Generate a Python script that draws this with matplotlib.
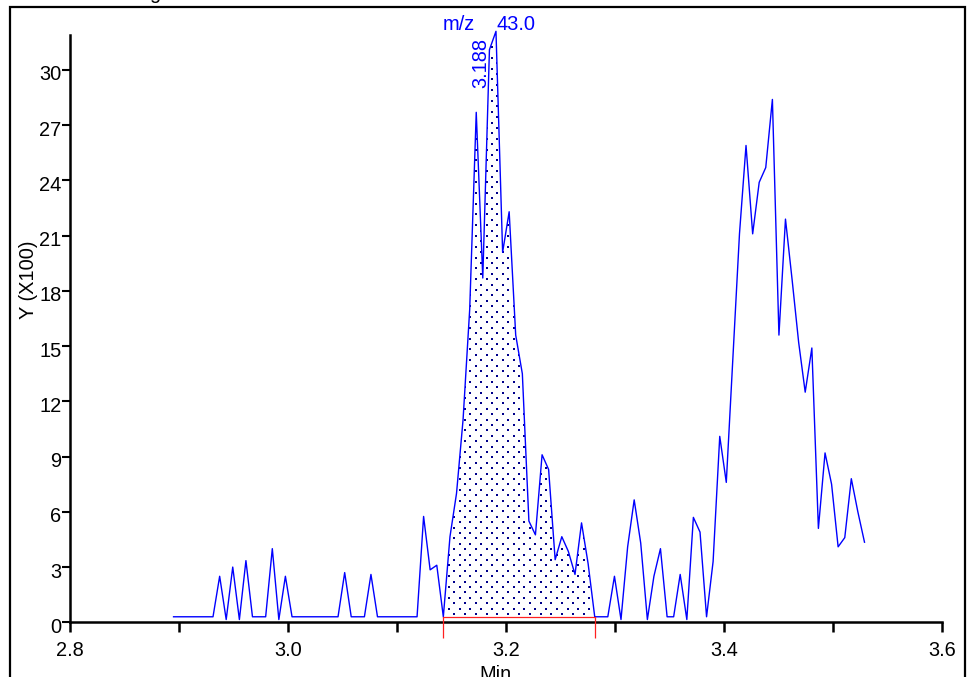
import numpy as np
import matplotlib
matplotlib.use("Agg")
import matplotlib.pyplot as plt
import matplotlib.transforms as mtransforms
from matplotlib.patches import Rectangle
from matplotlib.ticker import FixedLocator

# ---------------- data ----------------
scan_times = [
    2.8950, 2.9010, 2.9071, 2.9131, 2.9191, 2.9252, 2.9312, 2.9373, 2.9433, 2.9493,
    2.9554, 2.9614, 2.9674, 2.9735, 2.9795, 2.9856, 2.9916, 2.9976, 3.0037, 3.0097,
    3.0157, 3.0218, 3.0278, 3.0339, 3.0399, 3.0459, 3.0520, 3.0580, 3.0640, 3.0701,
    3.0761, 3.0821, 3.0882, 3.0942, 3.1003, 3.1063, 3.1123, 3.1184, 3.1244, 3.1304,
    3.1365, 3.1425, 3.1486, 3.1546, 3.1606, 3.1667, 3.1727, 3.1787, 3.1848, 3.1908,
    3.1969, 3.2029, 3.2089, 3.2150, 3.2210, 3.2270, 3.2331, 3.2391, 3.2451, 3.2512,
    3.2572, 3.2633, 3.2693, 3.2753, 3.2814, 3.2874, 3.2934, 3.2995, 3.3055, 3.3116,
    3.3176, 3.3236, 3.3297, 3.3357, 3.3417, 3.3478, 3.3538, 3.3598, 3.3659, 3.3719,
    3.3780, 3.3840, 3.3900, 3.3961, 3.4021, 3.4081, 3.4142, 3.4202, 3.4263, 3.4323,
    3.4383, 3.4444, 3.4504, 3.4564, 3.4625, 3.4685, 3.4745, 3.4806, 3.4866, 3.4927,
    3.4987, 3.5047, 3.5108, 3.5168, 3.5228, 3.5289,
]
intensity_x100 = [
    0.3, 0.3, 0.3, 0.3, 0.3, 0.3, 0.3, 2.5, 0.15, 3.0,
    0.15, 3.35, 0.3, 0.3, 0.3, 4.0, 0.15, 2.5, 0.3, 0.3,
    0.3, 0.3, 0.3, 0.3, 0.3, 0.3, 2.7, 0.3, 0.3, 0.3,
    2.6, 0.3, 0.3, 0.3, 0.3, 0.3, 0.3, 0.3, 5.75, 2.85,
    3.1, 0.3, 4.65, 7.0, 11.0, 17.0, 27.7, 18.7, 31.1, 32.1,
    20.1, 22.3, 15.6, 13.5, 5.5, 4.75, 9.1, 8.3, 3.4, 4.65,
    3.85, 2.6, 5.4, 3.2, 0.3, 0.3, 0.3, 2.5, 0.15, 4.1,
    6.65, 4.3, 0.15, 2.5, 4.0, 0.3, 0.3, 2.6, 0.15, 5.7,
    4.9, 0.3, 3.3, 10.1, 7.6, 14.3, 21.1, 25.9, 21.1, 23.9,
    24.7, 28.4, 15.6, 21.9, 18.6, 15.2, 12.5, 14.9, 5.1, 9.2,
    7.5, 4.1, 4.6, 7.8, 6.0, 4.35,
]
peak_start_idx = 41
peak_end_idx = 64
baseline_level = 0.3
peak_rt_label = "3.188"
mass_label = "m/z"
mass_value = "43.0"
x_major_ticks = [2.8, 3.0, 3.2, 3.4, 3.6]
x_major_labels = ["2.8", "3.0", "3.2", "3.4", "3.6"]
x_minor_ticks = [2.9, 3.1, 3.3, 3.5]
y_ticks = [0, 3, 6, 9, 12, 15, 18, 21, 24, 27, 30]
y_tick_labels = ["0", "3", "6", "9", "12", "15", "18", "21", "24", "27", "30"]
x_label = "Min"
y_label = "Y (X100)"
top_fragment = "g"

# ---------------- figure ----------------
W, H, DPI = 972, 677, 100
plt.rcParams["font.family"] = ["Liberation Sans", "DejaVu Sans"]
FS = 14.4
fig = plt.figure(figsize=(W / DPI, H / DPI), dpi=DPI)
fig.patch.set_facecolor("white")

ax_left, ax_right, ax_bottom_px, ax_top_px = 70, 942, 622.3, 35
ax = fig.add_axes([ax_left / W, 1 - ax_bottom_px / H,
                   (ax_right - ax_left) / W, (ax_bottom_px - ax_top_px) / H])
ax.set_xlim(2.8, 3.6)
ax.set_ylim(0, 31.9)
for s in ["top", "right"]:
    ax.spines[s].set_visible(False)
for s in ["left", "bottom"]:
    ax.spines[s].set_linewidth(1.8)

t = np.array(scan_times)
y = np.array(intensity_x100)

# integrated peak fill
ts = t[peak_start_idx:peak_end_idx + 1]
ys = y[peak_start_idx:peak_end_idx + 1]
poly = ax.fill_between(ts, baseline_level, ys, facecolor="white",
                       edgecolor="none", zorder=1)

# dotted fill pattern (staggered grid in pixel spacing)
px_per_x = (ax_right - ax_left) / 0.8
px_per_y = (ax_bottom_px - ax_top_px) / 31.9
dx = 10.8 / px_per_x
dy = 5.4 / px_per_y
gx, gy = [], []
row = 0
yy = baseline_level + dy * 0.5
while yy < 34:
    xx = ts[0] - dx + (dx / 2 if row % 2 else 0)
    while xx < ts[-1] + dx:
        gx.append(xx)
        gy.append(yy)
        xx += dx
    yy += dy
    row += 1
dots = ax.scatter(gx, gy, marker="s", s=4.3, c="#00008a", linewidths=0,
                  zorder=2, clip_on=True)
dots.set_clip_path(poly.get_paths()[0], ax.transData)

# chromatogram trace
ax.plot(t, y, color="#0000ff", lw=1.0, zorder=3, clip_on=False)

# integration baseline & markers
ax.plot([ts[0], ts[-1]], [baseline_level, baseline_level], color="#ff2020",
        lw=0.9, zorder=4)
drop = 16.0 / px_per_y
ax.vlines([ts[0], ts[-1]], -drop, baseline_level, color="#ff2020", lw=0.9,
          zorder=4, clip_on=False)

# ticks
ax.xaxis.set_major_locator(FixedLocator(x_major_ticks))
ax.set_xticklabels(x_major_labels)
ax.xaxis.set_minor_locator(FixedLocator(x_minor_ticks))
ax.tick_params(axis="x", which="both", direction="out", length=7.2, width=1.8,
               labelsize=FS, pad=6)
ax.set_yticks(y_ticks)
ax.set_yticklabels(y_tick_labels)
ax.tick_params(axis="y", direction="out", length=6, width=1.5,
               labelsize=FS, pad=0.3)
offset = mtransforms.ScaledTranslation(0, -3 / DPI, fig.dpi_scale_trans)
for lab in ax.get_yticklabels():
    lab.set_transform(lab.get_transform() + offset)

# labels
fig.text(495 / W, 1 - 665 / H, x_label, ha="center", va="top", fontsize=FS)
fig.text(28 / W, 1 - 280 / H, y_label, rotation=90, ha="center", va="center",
         fontsize=FS)

# peak annotations
fig.text(443 / W, 1 - 30 / H, mass_label, ha="left", va="baseline",
         fontsize=FS, color="#0000ff")
fig.text(496 / W, 1 - 30 / H, mass_value, ha="left", va="baseline",
         fontsize=FS, color="#0000ff")
fig.text(481 / W, 1 - 88 / H, peak_rt_label, rotation=90, ha="center",
         va="bottom", fontsize=FS, color="#0000ff")

# cut-off title fragment (partially outside the image, as in the reference)
fig.text(155 / W, 1 + 1.3 / H, top_fragment, ha="center", va="baseline",
         fontsize=FS)

# outer frame
fig.add_artist(Rectangle((10 / W, -0.05), (965 - 10) / W, 1.05 - 6.7 / H,
                         transform=fig.transFigure, fill=False,
                         edgecolor="black", lw=1.6, clip_on=False))

fig.savefig("out.png", dpi=DPI, facecolor="white")
